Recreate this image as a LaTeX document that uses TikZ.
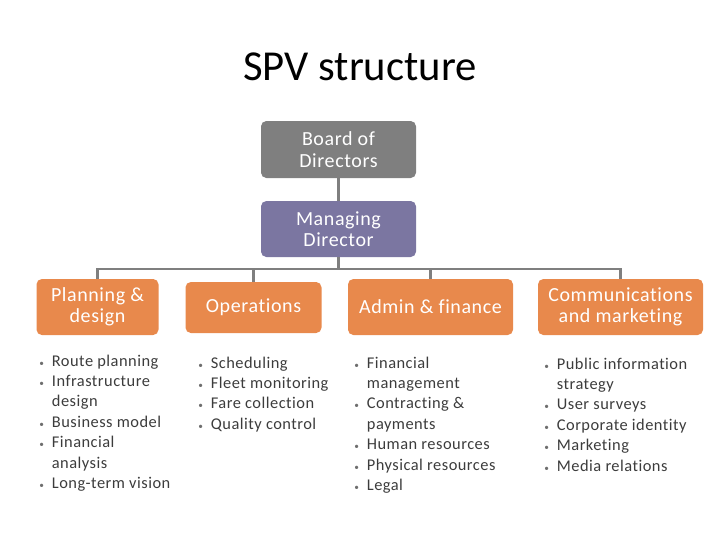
\documentclass[tikz,border=0pt]{standalone}
\usepackage{fontspec}
\setmainfont{Carlito}[LetterSpace=3,Ligatures={NoCommon}]
\newfontfamily\titlefont{Carlito}
\definecolor{boxgray}{HTML}{7F7F7F}
\definecolor{boxpurple}{HTML}{7B76A1}
\definecolor{boxorange}{HTML}{E8894C}
\definecolor{linegray}{HTML}{7F7F7F}
\definecolor{txtgray}{HTML}{3C3C3C}
\definecolor{bulgray}{HTML}{6E6E6E}
\newcommand{\bul}{{\scriptsize\color{bulgray}\textbullet}}
\begin{document}
\begin{tikzpicture}[x=0.75pt,y=-0.75pt,
  box/.style={rounded corners=4pt,text=white,align=center,inner sep=0pt,
    font=\fontsize{15}{16}\selectfont},
  conn/.style={draw=linegray,line width=2.2pt},
  list/.style={anchor=base west,inner sep=0pt,text=txtgray,
    font=\fontsize{12.3}{15.3}\selectfont}]
\useasboundingbox (0,0) rectangle (720,540);
\node (title) at (360,67) {\titlefont\fontsize{32}{36}\selectfont SPV structure};
\node[box,fill=boxgray,minimum width=155*0.75pt,minimum height=57*0.75pt] (bod) at (338.5,149.5) {Board of\\Directors};
\node[box,fill=boxpurple,minimum width=155*0.75pt,minimum height=56*0.75pt] (md) at (338.5,229) {Managing\\Director};
\node[box,fill=boxorange,minimum width=122*0.75pt,minimum height=56*0.75pt] (pd) at (97.5,307) {Planning \&\\design};
\node[box,fill=boxorange,minimum width=136*0.75pt,minimum height=51*0.75pt] (op) at (253.5,307.5) {Operations};
\node[box,fill=boxorange,minimum width=165*0.75pt,minimum height=56*0.75pt] (af) at (430.5,307) {Admin \& finance};
\node[box,fill=boxorange,minimum width=165*0.75pt,minimum height=56*0.75pt] (cm) at (620.5,307) {Communications\\and marketing};
\coordinate (bus) at (338.5,269);
\draw[conn] (bod.south) -- (md.north);
\draw[conn] (md.south) -- (bus);
\draw[conn] (pd.north) |- (bus) -| (cm.north);
\draw[conn] (op.north) -- (op.north |- bus);
\draw[conn] (af.north) -- (af.north |- bus);
\node[list] (l1) at (39,366) {\begin{tabular}[t]{@{}l@{\hspace{6pt}}l@{}}
\bul & Route planning\\
\bul & Infrastructure\\
 & design\\
\bul & Business model\\
\bul & Financial\\
 & analysis\\
\bul & Long-term vision
\end{tabular}};
\node[list] (l2) at (198,368) {\begin{tabular}[t]{@{}l@{\hspace{6pt}}l@{}}
\bul & Scheduling\\
\bul & Fleet monitoring\\
\bul & Fare collection\\
\bul & Quality control
\end{tabular}};
\node[list] (l3) at (354,368) {\begin{tabular}[t]{@{}l@{\hspace{6pt}}l@{}}
\bul & Financial\\
 & management\\
\bul & Contracting \&\\
 & payments\\
\bul & Human resources\\
\bul & Physical resources\\
\bul & Legal
\end{tabular}};
\node[list] (l4) at (544,369) {\begin{tabular}[t]{@{}l@{\hspace{6pt}}l@{}}
\bul & Public information\\
 & strategy\\
\bul & User surveys\\
\bul & Corporate identity\\
\bul & Marketing\\
\bul & Media relations
\end{tabular}};
\end{tikzpicture}
\end{document}
